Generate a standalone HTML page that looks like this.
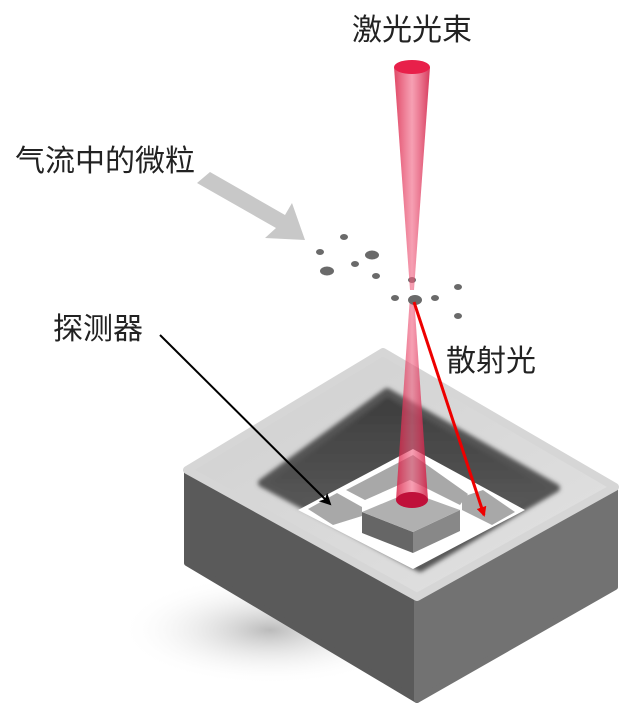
<!DOCTYPE html>
<html><head><meta charset="utf-8"><style>
html,body{margin:0;padding:0;background:#fff;}
svg{display:block;}
text{font-family:"Liberation Sans","Noto Sans CJK SC",sans-serif;fill:#222;}
</style></head><body>
<svg width="640" height="712" viewBox="0 0 640 712">
<defs>
<linearGradient id="beam" x1="0" x2="1"><stop offset="0" stop-color="#d8193f" stop-opacity=".8"/><stop offset=".5" stop-color="#f06080" stop-opacity=".6"/><stop offset="1" stop-color="#d01840" stop-opacity=".85"/></linearGradient>
<linearGradient id="cav" x1="0" y1="0" x2="0" y2="1"><stop offset="0" stop-color="#3c3c3c"/><stop offset=".6" stop-color="#555"/><stop offset="1" stop-color="#999"/></linearGradient>
<linearGradient id="topf" x1="0" y1="0" x2="1" y2="1"><stop offset="0" stop-color="#cfcfcf"/><stop offset="1" stop-color="#e2e2e2"/></linearGradient>
<radialGradient id="shadow" cx=".5" cy=".5" r=".5"><stop offset="0" stop-color="#bbb"/><stop offset="1" stop-color="#fff" stop-opacity="0"/></radialGradient>
<filter id="bl"><feGaussianBlur stdDeviation="2"/></filter>
<marker id="ab" markerWidth="12" markerHeight="12" refX="10" refY="6" orient="auto" markerUnits="userSpaceOnUse"><path d="M0,0 L12,6 L0,12 L3,6 Z" fill="#000"/></marker>
<marker id="ar" markerWidth="10" markerHeight="10" refX="8" refY="5" orient="auto" markerUnits="userSpaceOnUse"><path d="M0,0 L10,5 L0,10 Z" fill="#e00"/></marker>
</defs>
<ellipse cx="270" cy="630" rx="150" ry="55" fill="url(#shadow)"/>
<path d="M187,470 L417,597 L417,700 L187,563 Z" fill="#5a5a5a" stroke="#5a5a5a" stroke-width="6" stroke-linejoin="round"/>
<path d="M417,597 L615,487 L615,587 L417,700 Z" fill="#727272" stroke="#727272" stroke-width="6" stroke-linejoin="round"/>
<path d="M187,470 L383,352 L615,487 L417,597 Z" fill="url(#topf)" stroke="#d6d6d6" stroke-width="8" stroke-linejoin="round"/>
<path d="M262,483 L387,392 L556,488 L420,568 Z" fill="url(#cav)" stroke="#555" stroke-width="8" stroke-linejoin="round" filter="url(#bl)"/>
<path d="M298,510 L413,449 L525,510 L413,569 Z" fill="#fff"/>
<path d="M308,509 L337,493 L362,507 L362,516 L333,525 Z" fill="#a8a8a8"/>
<path d="M346,490 L413,455 L468,494 L460,505 L410,480 L365,500 Z" fill="#a8a8a8"/>
<path d="M462,497 L483,490 L515,512 L492,525 L462,510 Z" fill="#a8a8a8"/>
<path d="M362,512 L413,532 L413,553 L362,533 Z" fill="#666"/>
<path d="M413,532 L460,510 L460,531 L413,553 Z" fill="#888"/>
<path d="M362,512 L410,492 L460,510 L413,532 Z" fill="#b0b0b0"/>
<path d="M197,183 L210,172 L285,215 L292,203 L305,240 L265,238 L276,228 Z" fill="#c8c8c8"/>
<g fill="#6a6a6a">
<ellipse cx="344" cy="237" rx="4" ry="3"/><ellipse cx="320" cy="252" rx="4" ry="3"/>
<ellipse cx="372" cy="255" rx="7" ry="4.5"/><ellipse cx="355" cy="264" rx="4" ry="3"/>
<ellipse cx="327" cy="271" rx="7" ry="4.5"/><ellipse cx="376" cy="276" rx="4" ry="3"/>
<ellipse cx="412" cy="280" rx="4" ry="3"/><ellipse cx="395" cy="298" rx="4" ry="3"/>
<ellipse cx="435" cy="298" rx="4" ry="3"/>
<ellipse cx="458" cy="287" rx="4" ry="3"/><ellipse cx="458" cy="316" rx="4" ry="3"/>
</g>
<path d="M394,67 L410,290 L414,290 L430,67 Z" fill="url(#beam)"/>
<ellipse cx="412" cy="67" rx="18" ry="7" fill="#e8204a"/>
<path d="M410,296 L414,296 L428,500 L396,500 Z" fill="url(#beam)"/>
<ellipse cx="412" cy="500" rx="16" ry="8" fill="#c0103a"/>
<ellipse cx="415" cy="300" rx="7" ry="5" fill="#6a6a6a"/>
<line x1="160" y1="335" x2="330" y2="504" stroke="#000" stroke-width="2" marker-end="url(#ab)"/>
<line x1="414" y1="302" x2="484" y2="515" stroke="#e00" stroke-width="3" marker-end="url(#ar)"/>
<text x="412" y="40" font-size="30" text-anchor="middle">激光光束</text>
<text x="15" y="171" font-size="30">气流中的微粒</text>
<text x="53" y="339" font-size="30">探测器</text>
<text x="446" y="371" font-size="30">散射光</text>
</svg>
</body></html>
